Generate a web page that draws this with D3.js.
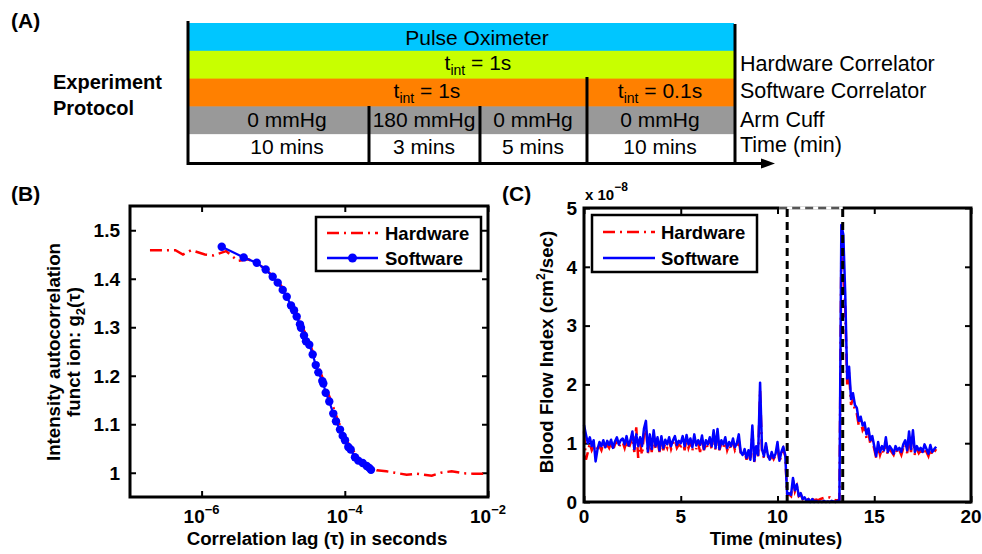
<!DOCTYPE html>
<html><head><meta charset="utf-8">
<script src="https://cdn.jsdelivr.net/npm/d3@7"></script>
<style>
body{margin:0;background:#fff}
svg{display:block}
text{font-family:Arial,'Liberation Sans',Helvetica,sans-serif;fill:#000}
</style>
</head><body>
<svg id="chart" width="982" height="554"></svg>
<script>
// ================= DATA =================
// Panel A – protocol
const pulseLabel = "Pulse Oximeter";
const rowNames = ["Hardware Correlator", "Software Correlator", "Arm Cuff", "Time (min)"];
const cuffLabels = ["0 mmHg", "180 mmHg", "0 mmHg", "0 mmHg"];
const durationLabels = ["10 mins", "3 mins", "5 mins", "10 mins"];
const hwIntegration = ["1s"];
const swIntegration = ["1s", "0.1s"];

// Panel B – g2 curves
const bHwTau = [1.9e-7, 4.3e-7, 5.5e-7, 7.2e-7, 1.11e-6, 1.45e-6, 2.2e-6, 3.2e-6, 4.5e-6, 6.0e-6, 8.0e-6, 1.0e-5, 1.2e-5, 1.4e-5, 1.6e-5, 1.8e-5, 2.0e-5, 2.2e-5, 2.5e-5, 2.8e-5, 3.2e-5, 3.6e-5, 4.0e-5, 4.5e-5, 5.0e-5, 5.6e-5, 6.3e-5, 7.1e-5, 8.0e-5, 9.0e-5, 1.0e-4, 1.12e-4, 1.26e-4, 1.41e-4, 1.6e-4, 1.8e-4, 2.0e-4, 2.3e-4, 2.8e-4, 3.8e-4, 5.0e-4, 7.3e-4, 1.0e-3, 1.64e-3, 2.2e-3, 3.1e-3, 4.5e-3, 6.2e-3, 1.0e-2];
const bHwG2 = [1.459, 1.459, 1.450, 1.459, 1.450, 1.448, 1.457, 1.437, 1.440, 1.432, 1.418, 1.405, 1.392, 1.378, 1.364, 1.350, 1.338, 1.325, 1.304, 1.288, 1.268, 1.248, 1.230, 1.210, 1.192, 1.170, 1.152, 1.130, 1.108, 1.090, 1.074, 1.061, 1.049, 1.039, 1.028, 1.021, 1.015, 1.010, 1.005, 1.003, 1.000, 0.996, 0.998, 0.994, 1.000, 1.003, 0.999, 0.998, 0.998];
const bSwTau = [1.91e-6, 3.87e-6, 5.89e-6, 7.85e-6, 9.84e-6, 1.156e-5, 1.358e-5, 1.545e-5, 1.774e-5, 1.954e-5, 2.128e-5, 2.366e-5, 2.443e-5, 2.692e-5, 2.871e-5, 3.19e-5, 3.56e-5, 3.93e-5, 4.27e-5, 4.85e-5, 5.01e-5, 5.41e-5, 6.07e-5, 6.90e-5, 7.53e-5, 8.57e-5, 9.35e-5, 1.007e-4, 1.119e-4, 1.208e-4, 1.387e-4, 1.545e-4, 1.778e-4, 2.023e-4, 2.198e-4, 2.323e-4];
const bSwG2 = [1.466, 1.444, 1.433, 1.419, 1.404, 1.392, 1.377, 1.363, 1.345, 1.335, 1.322, 1.306, 1.299, 1.283, 1.271, 1.264, 1.244, 1.222, 1.207, 1.189, 1.184, 1.165, 1.147, 1.122, 1.106, 1.089, 1.076, 1.067, 1.053, 1.048, 1.032, 1.025, 1.020, 1.014, 1.010, 1.006];
const bTickX = [1e-6, 1e-4, 1e-2];
const bTickXExp = ["\u22126", "\u22124", "\u22122"];
const bTickY = [1, 1.1, 1.2, 1.3, 1.4, 1.5];
const bTickYLabels = ["1", "1.1", "1.2", "1.3", "1.4", "1.5"];

// Panel C – blood flow index (x 1e-8 cm^2/sec), one sample every 0.1 min from t = 0
const cStepMin = 0.1;
const cSoftware = [
 1.31,1.15,1.00,1.10,0.95,1.05,0.69,0.90,1.02,0.95,
 1.05,0.93,1.04,0.97,1.06,0.92,1.03,1.10,0.98,1.05,
 1.08,0.98,1.12,0.96,1.05,1.20,0.90,1.15,0.95,1.10,
 0.95,1.25,1.38,0.86,1.15,0.90,1.22,0.95,1.10,0.88,
 1.12,0.92,1.06,0.98,1.10,0.95,1.05,1.12,0.97,1.04,
 1.00,1.12,0.95,1.14,0.98,1.08,0.93,1.15,0.96,1.05,
 0.97,1.13,0.90,1.05,0.98,1.10,0.95,1.22,0.92,1.24,
 0.90,1.05,0.98,1.10,0.92,1.02,0.95,1.08,0.93,1.00,
 1.15,0.85,0.80,0.90,0.75,0.88,0.72,1.30,0.70,0.95,
 0.80,2.03,0.90,0.78,1.00,0.80,0.72,0.85,0.75,0.82,
 1.02,0.70,0.85,0.94,0.80,0.13,0.15,0.12,0.41,0.20,
 0.30,0.10,0.15,0.05,0.08,0.02,0.05,0.00,0.05,0.00,
 0.02,0.00,0.01,0.00,0.02,0.00,0.01,0.00,0.02,0.01,
 0.00,0.02,0.03,4.71,4.55,3.55,2.10,2.30,1.75,1.85,
 1.65,1.60,1.38,1.45,1.30,1.35,1.15,1.25,1.05,1.12,
 0.95,0.78,1.02,0.85,0.95,0.88,1.10,0.85,0.95,0.90,
 0.82,0.95,0.88,0.92,0.85,0.98,1.05,0.88,1.20,0.90,
 1.22,0.85,0.95,0.88,0.92,0.85,0.98,0.90,0.82,0.97,
 0.85,0.90,0.94];
const cHardware = [
 1.20,0.72,0.85,1.00,0.88,0.95,0.80,0.92,0.95,0.88,
 1.00,0.90,0.98,0.92,1.02,0.88,0.98,1.05,0.93,1.00,
 1.02,0.92,1.05,0.90,1.00,1.12,0.85,1.27,0.75,1.00,
 0.80,1.15,1.30,0.82,1.08,0.85,1.15,0.90,1.03,0.85,
 1.05,0.88,1.00,0.92,1.05,0.90,1.00,1.05,0.92,0.98,
 0.95,1.05,0.88,1.08,0.92,1.02,0.87,1.10,0.90,1.00,
 0.85,1.05,0.88,1.00,0.92,1.05,0.90,1.15,0.88,1.15,
 0.88,1.00,0.92,1.05,0.88,0.97,0.90,1.02,0.88,0.95,
 1.05,0.82,0.78,0.85,0.72,0.85,0.70,1.20,0.68,0.90,
 0.78,1.90,0.85,0.75,0.95,0.78,0.70,0.80,0.73,0.80,
 0.95,0.68,0.80,0.90,0.78,0.12,0.13,0.10,0.38,0.18,
 0.27,0.10,0.13,0.05,0.07,0.03,0.05,0.02,0.05,0.03,
 0.04,0.03,0.05,0.06,0.07,0.06,0.07,0.08,0.05,0.04,
 0.03,0.03,0.04,4.30,4.00,3.30,2.00,2.20,1.65,1.75,
 1.55,1.50,1.30,1.38,1.22,1.28,1.08,1.18,0.98,1.05,
 0.90,0.75,0.95,0.80,0.90,0.83,1.02,0.80,0.90,0.85,
 0.80,0.90,0.83,0.88,0.80,0.92,0.98,0.83,1.10,0.85,
 1.12,0.80,0.90,0.83,0.88,0.80,0.92,0.85,0.78,0.90,
 0.80,0.85,0.90];
const cuffWindow = [10.5, 13.37];
const cTickX = [0, 5, 10, 15, 20];
const cTickY = [0, 1, 2, 3, 4, 5];
const seriesNames = ["Hardware", "Software"];

// ================= DRAW =================
const svg = d3.select("#chart");
const RED = "#ff0000", BLUE = "#0000ff";
const DASHDOT = "12,5,2,5";

// ---------- Panel A ----------
const A = svg.append("g");
const protoX = d3.scaleLinear().domain([0, 4]).range([188, 734]);
const segEdges = [0, 1.326, 2.139, 2.923, 4]; // boundaries in band units (layout)
const rowY = d3.scaleLinear().domain([0, 5]).range([23, 162]);
const rowColors = ["#00c6ff", "#c8ff00", "#ff8000", "#999999", "#ffffff"];
rowColors.forEach((c, i) => {
  A.append("rect").attr("x", protoX(0)).attr("y", rowY(i))
    .attr("width", protoX(4) - protoX(0)).attr("height", rowY(i + 1) - rowY(i) + 0.5)
    .attr("fill", c);
});
const colCenters = [287, 424, 533, 660]; // layout
function tint(g, x, y, val) {
  const t = g.append("text").attr("x", x).attr("y", y).attr("text-anchor", "middle").attr("font-size", 21);
  t.append("tspan").text("t");
  t.append("tspan").attr("font-size", 14).attr("dy", 5).text("int");
  t.append("tspan").attr("dy", -5).text(" = " + val);
}
A.append("text").attr("x", 477).attr("y", 45).attr("text-anchor", "middle").attr("font-size", 21).text(pulseLabel);
tint(A, 478, 70, hwIntegration[0]);
tint(A, 427, 98, swIntegration[0]);
tint(A, 660, 98, swIntegration[1]);
cuffLabels.forEach((l, i) => A.append("text").attr("x", colCenters[i]).attr("y", 127)
  .attr("text-anchor", "middle").attr("font-size", 21).text(l));
durationLabels.forEach((l, i) => A.append("text").attr("x", colCenters[i]).attr("y", 154)
  .attr("text-anchor", "middle").attr("font-size", 21).text(l));
const rowBaselines = [71, 98, 127, 152];
rowNames.forEach((l, i) => A.append("text").attr("x", 740).attr("y", rowBaselines[i])
  .attr("font-size", 21.5).text(l));
// black frame lines
const ln = (x1, y1, x2, y2) => A.append("line").attr("x1", x1).attr("y1", y1).attr("x2", x2).attr("y2", y2)
  .attr("stroke", "#000").attr("stroke-width", 3);
ln(188, 21, 188, 165);
ln(735, 24, 735, 164);
ln(188, 163.5, 764, 163.5);
A.append("path").attr("d", "M761,158.5 L775,163.5 L761,168.5 Z").attr("fill", "#000");
ln(protoX(segEdges[1]), 106, protoX(segEdges[1]), 164);
ln(protoX(segEdges[2]), 106, protoX(segEdges[2]), 164);
ln(protoX(segEdges[3]), 77, protoX(segEdges[3]), 164);
A.append("text").attr("x", 53).attr("y", 89).attr("font-size", 20).attr("font-weight", "bold").text("Experiment");
A.append("text").attr("x", 53).attr("y", 115).attr("font-size", 20).attr("font-weight", "bold").text("Protocol");
svg.append("text").attr("x", 11).attr("y", 28).attr("font-size", 21).attr("font-weight", "bold").text("(A)");
svg.append("text").attr("x", 11).attr("y", 201).attr("font-size", 21).attr("font-weight", "bold").text("(B)");
svg.append("text").attr("x", 502).attr("y", 201).attr("font-size", 21).attr("font-weight", "bold").text("(C)");

// ---------- Panel B ----------
const xB = d3.scaleLog().domain([1e-7, 1e-2]).range([130, 488]);
const yB = d3.scaleLinear().domain([0.95, 1.55]).range([497, 206]);
const B = svg.append("g");
function styleAxis(g) {
  g.select(".domain").remove();
  g.selectAll(".tick line").attr("stroke-width", 2);
  g.selectAll(".tick text").remove();
}
B.append("g").attr("transform", `translate(0,497)`).call(d3.axisBottom(xB).tickValues(bTickX).tickSizeInner(-6).tickSizeOuter(0)).call(styleAxis);
B.append("g").attr("transform", `translate(0,206)`).call(d3.axisTop(xB).tickValues(bTickX).tickSizeInner(-6).tickSizeOuter(0)).call(styleAxis);
B.append("g").attr("transform", `translate(130,0)`).call(d3.axisLeft(yB).tickValues(bTickY).tickSizeInner(-6).tickSizeOuter(0)).call(styleAxis);
B.append("g").attr("transform", `translate(488,0)`).call(d3.axisRight(yB).tickValues(bTickY).tickSizeInner(-6).tickSizeOuter(0)).call(styleAxis);
bTickY.forEach((v, i) => B.append("text").attr("x", 120).attr("y", yB(v)).attr("dy", "0.36em")
  .attr("text-anchor", "end").attr("font-size", 19).attr("font-weight", "bold").text(bTickYLabels[i]));
bTickX.forEach((v, i) => {
  const t = B.append("text").attr("x", xB(v)).attr("y", 523).attr("text-anchor", "middle")
    .attr("font-size", 19).attr("font-weight", "bold");
  t.append("tspan").text("10");
  t.append("tspan").attr("font-size", 13).attr("dy", -9).text(bTickXExp[i]);
});
const hwLineB = d3.line().x((d, i) => xB(bHwTau[i])).y(d => yB(d));
B.append("path").datum(bHwG2).attr("d", hwLineB).attr("fill", "none").attr("stroke", RED)
  .attr("stroke-width", 2.5).attr("stroke-dasharray", DASHDOT);
const swLineB = d3.line().x((d, i) => xB(bSwTau[i])).y(d => yB(d));
B.append("path").datum(bSwG2).attr("d", swLineB).attr("fill", "none").attr("stroke", BLUE).attr("stroke-width", 2.2);
B.selectAll("circle.sw").data(bSwG2).enter().append("circle")
  .attr("cx", (d, i) => xB(bSwTau[i])).attr("cy", d => yB(d)).attr("r", 4.2).attr("fill", BLUE);
B.append("rect").attr("x", 130).attr("y", 206).attr("width", 358).attr("height", 291)
  .attr("fill", "none").attr("stroke", "#000").attr("stroke-width", 3);
// legend B
B.append("rect").attr("x", 316).attr("y", 217).attr("width", 165).attr("height", 54)
  .attr("fill", "#fff").attr("stroke", "#000").attr("stroke-width", 2.5);
B.append("line").attr("x1", 327).attr("x2", 378).attr("y1", 233).attr("y2", 233)
  .attr("stroke", RED).attr("stroke-width", 2.5).attr("stroke-dasharray", DASHDOT);
B.append("line").attr("x1", 327).attr("x2", 378).attr("y1", 258).attr("y2", 258)
  .attr("stroke", BLUE).attr("stroke-width", 2.5);
B.append("circle").attr("cx", 352.5).attr("cy", 258).attr("r", 4.5).attr("fill", BLUE);
seriesNames.forEach((n, i) => B.append("text").attr("x", 385).attr("y", [239.5, 264.5][i])
  .attr("font-size", 18.5).attr("font-weight", "bold").text(n));
// axis labels B
B.append("text").attr("x", 317).attr("y", 545).attr("text-anchor", "middle").attr("font-size", 18.7)
  .attr("font-weight", "bold").text("Correlation lag (\u03c4) in seconds");
B.append("text").attr("transform", "translate(60,352) rotate(-90)").attr("text-anchor", "middle")
  .attr("font-size", 18.7).attr("font-weight", "bold").text("Intensity autocorrelation");
{
  const t = B.append("text").attr("transform", "translate(80,352) rotate(-90)").attr("text-anchor", "middle")
    .attr("font-size", 18.7).attr("font-weight", "bold");
  t.append("tspan").text("funct ion:  g");
  t.append("tspan").attr("font-size", 13).attr("dy", 5).text("2");
  t.append("tspan").attr("dy", -5).text("(\u03c4)");
}

// ---------- Panel C ----------
const xC = d3.scaleLinear().domain([0, 20]).range([584, 971]);
const yC = d3.scaleLinear().domain([0, 5]).range([502, 208]);
const C = svg.append("g");
C.append("g").attr("transform", `translate(0,502)`).call(d3.axisBottom(xC).tickValues(cTickX).tickSizeInner(-6).tickSizeOuter(0)).call(styleAxis);
C.append("g").attr("transform", `translate(0,208)`).call(d3.axisTop(xC).tickValues(cTickX).tickSizeInner(-6).tickSizeOuter(0)).call(styleAxis);
C.append("g").attr("transform", `translate(584,0)`).call(d3.axisLeft(yC).tickValues(cTickY).tickSizeInner(-6).tickSizeOuter(0)).call(styleAxis);
C.append("g").attr("transform", `translate(971,0)`).call(d3.axisRight(yC).tickValues(cTickY).tickSizeInner(-6).tickSizeOuter(0)).call(styleAxis);
cTickY.forEach(v => C.append("text").attr("x", 577).attr("y", yC(v)).attr("dy", "0.36em")
  .attr("text-anchor", "end").attr("font-size", 19).attr("font-weight", "bold").text(v));
cTickX.forEach(v => C.append("text").attr("x", xC(v)).attr("y", 523)
  .attr("text-anchor", "middle").attr("font-size", 19).attr("font-weight", "bold").text(v));
{
  const t = C.append("text").attr("x", 585).attr("y", 200).attr("font-size", 15).attr("font-weight", "bold");
  t.append("tspan").text("x 10");
  t.append("tspan").attr("font-size", 12).attr("dy", -9).text("\u22128");
}
const lineC = d3.line().x((d, i) => xC(i * cStepMin)).y(d => yC(d));
C.append("path").datum(cHardware).attr("d", lineC).attr("fill", "none").attr("stroke", RED)
  .attr("stroke-width", 2.5).attr("stroke-dasharray", DASHDOT);
C.append("path").datum(cSoftware).attr("d", lineC).attr("fill", "none").attr("stroke", BLUE)
  .attr("stroke-width", 2.5).attr("stroke-linejoin", "round");
C.append("rect").attr("x", 584).attr("y", 208).attr("width", 387).attr("height", 294)
  .attr("fill", "none").attr("stroke", "#000").attr("stroke-width", 3);
// cuff window dashed box
C.append("line").attr("x1", xC(cuffWindow[0]) - 8).attr("x2", xC(cuffWindow[1])).attr("y1", 208).attr("y2", 208)
  .attr("stroke", "#fff").attr("stroke-width", 3.5);
C.append("line").attr("x1", xC(cuffWindow[0]) - 8).attr("x2", xC(cuffWindow[1])).attr("y1", 208).attr("y2", 208)
  .attr("stroke", "#555").attr("stroke-width", 2.5).attr("stroke-dasharray", "8,5");
cuffWindow.forEach(t => C.append("line").attr("x1", xC(t)).attr("x2", xC(t)).attr("y1", 209).attr("y2", 502)
  .attr("stroke", "#000").attr("stroke-width", 3).attr("stroke-dasharray", "8,5"));
// legend C
C.append("rect").attr("x", 592).attr("y", 215).attr("width", 165).attr("height", 57)
  .attr("fill", "#fff").attr("stroke", "#000").attr("stroke-width", 2.5);
C.append("line").attr("x1", 603).attr("x2", 655).attr("y1", 232).attr("y2", 232)
  .attr("stroke", RED).attr("stroke-width", 2.5).attr("stroke-dasharray", DASHDOT);
C.append("line").attr("x1", 603).attr("x2", 655).attr("y1", 258).attr("y2", 258)
  .attr("stroke", BLUE).attr("stroke-width", 2.5);
seriesNames.forEach((n, i) => C.append("text").attr("x", 661).attr("y", [238.5, 264.5][i])
  .attr("font-size", 18.5).attr("font-weight", "bold").text(n));
// axis labels C
C.append("text").attr("x", 776).attr("y", 545).attr("text-anchor", "middle").attr("font-size", 18.7)
  .attr("font-weight", "bold").text("Time (minutes)");
{
  const t = C.append("text").attr("transform", "translate(553,352) rotate(-90)").attr("text-anchor", "middle")
    .attr("font-size", 18.7).attr("font-weight", "bold");
  t.append("tspan").text("Blood Flow Index (cm");
  t.append("tspan").attr("font-size", 12).attr("dy", -8).text("2");
  t.append("tspan").attr("dy", 8).text("/sec)");
}
</script>
</body></html>
